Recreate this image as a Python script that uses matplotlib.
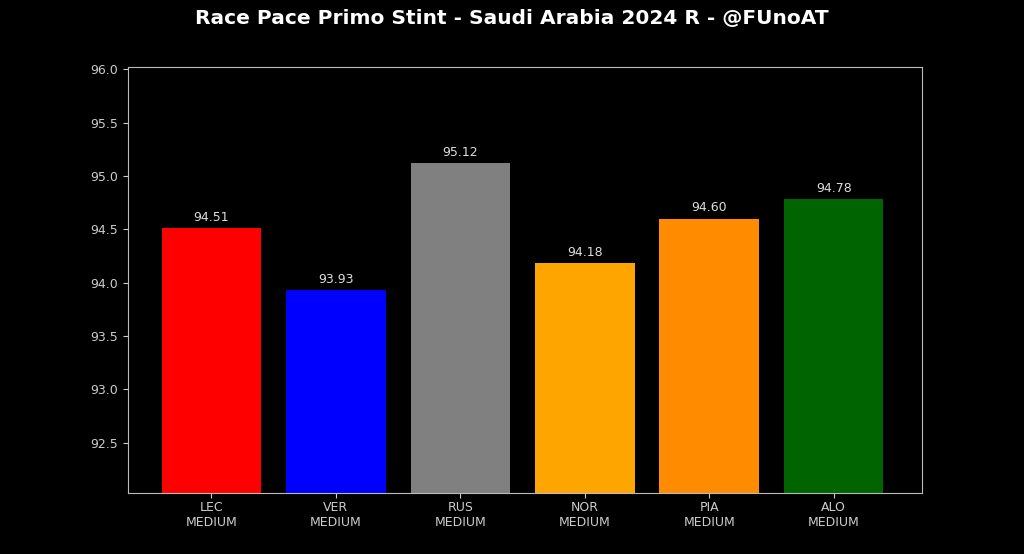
import matplotlib
matplotlib.use('Agg')
import matplotlib.pyplot as plt

drivers = ['LEC', 'VER', 'RUS', 'NOR', 'PIA', 'ALO']
compounds = ['MEDIUM', 'MEDIUM', 'MEDIUM', 'MEDIUM', 'MEDIUM', 'MEDIUM']
pace = [94.51, 93.93, 95.12, 94.18, 94.60, 94.78]
colors = ['#ff0000', '#0000ff', '#808080', '#ffa500', '#ff8c00', '#006400']

plt.style.use('dark_background')
fig = plt.figure(figsize=(10.24, 5.54), dpi=100)
ax = fig.add_axes([128/1024, 1-493/554, (922-128)/1024, (493-67)/554])

labels = [d + '\n' + c for d, c in zip(drivers, compounds)]
bars = ax.bar(labels, pace, color=colors, width=0.8)
ax.bar_label(bars, labels=['%.2f' % p for p in pace], padding=3, color='#dddddd', fontsize=9)

ax.set_xlim(-0.67, 5.71)
ax.set_ylim(92.03, 96.02)
ax.set_yticks([92.5, 93.0, 93.5, 94.0, 94.5, 95.0, 95.5, 96.0])
ax.tick_params(colors='#cccccc', labelsize=9)
ax.tick_params(axis='x', pad=2)
for s in ax.spines.values():
    s.set_color('#bbbbbb')

fig.text(0.5, 0.966, 'Race Pace Primo Stint - Saudi Arabia 2024 R - @FUnoAT',
         ha='center', va='center', fontsize=14.5, fontweight='bold', color='white')

fig.savefig('out.png', dpi=100, facecolor='black')
